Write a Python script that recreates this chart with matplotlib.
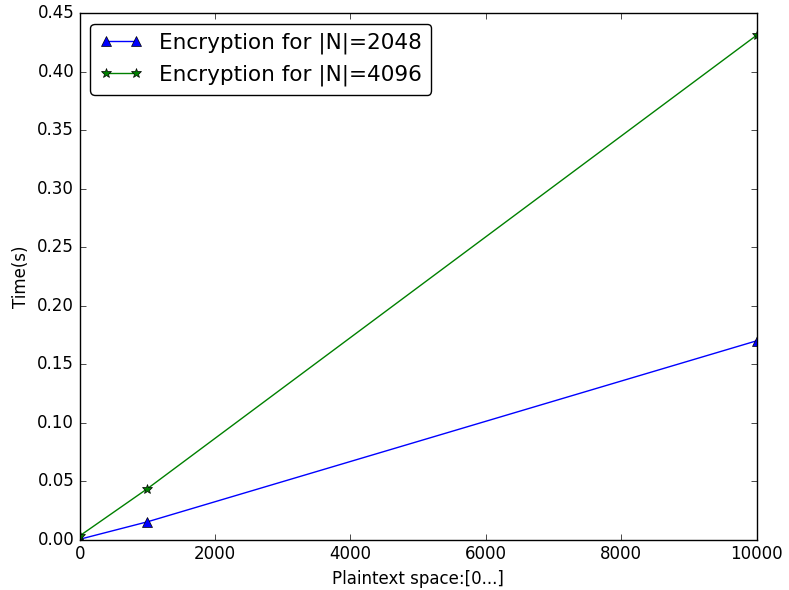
import matplotlib
matplotlib.use("Agg")
import matplotlib.pyplot as plt

plt.style.use("classic")
plt.rcParams["font.family"] = ["DejaVu Sans"]

# plaintext space sizes and encryption times (s)
sizes = [0, 1000, 10000]
time_2048 = [0.0005, 0.0154, 0.170]
time_4096 = [0.0034, 0.0437, 0.431]

fig = plt.figure(figsize=(7.89, 5.90), dpi=100, facecolor="white")
ax = fig.add_axes([0.101, 0.085, 0.858, 0.893])

ax.plot(sizes, time_2048, "b-^", markersize=7.5, markeredgecolor="black",
        label="Encryption for |N|=2048")
ax.plot(sizes, time_4096, "g-*", markersize=7, markeredgecolor="black",
        label="Encryption for |N|=4096")

ax.set_xlim(0, 10000)
ax.set_ylim(0, 0.45)
ax.set_xlabel("Plaintext space:[0...]", fontsize=12)
ax.set_ylabel("Time(s)", fontsize=12)
ax.tick_params(labelsize=12)

ax.legend(loc="upper left", numpoints=2, fancybox=True, fontsize=15.5,
          framealpha=1, edgecolor="black")

fig.savefig("out.png", dpi=100, facecolor="white")
